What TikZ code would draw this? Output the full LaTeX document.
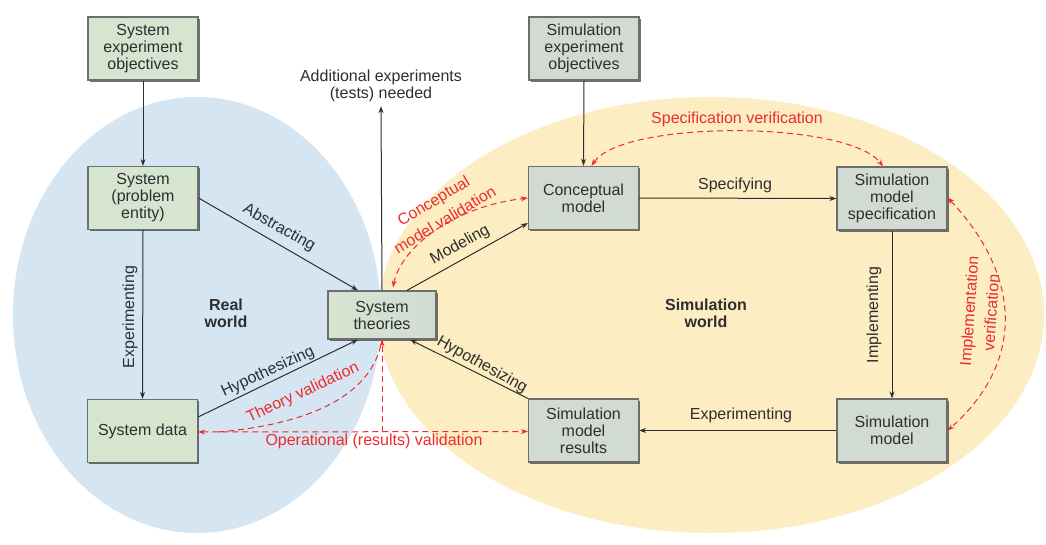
\documentclass[tikz,border=0pt]{standalone}
\usepackage{fontspec}
\setmainfont{Liberation Sans}
\usetikzlibrary{arrows.meta,shadows,calc}
\definecolor{bluebg}{HTML}{D5E5F2}
\definecolor{yellowbg}{HTML}{FCEEC2}
\definecolor{leftbox}{HTML}{D5E5D0}
\definecolor{rightbox}{HTML}{D2DBD3}
\definecolor{boxline}{HTML}{6E6E6E}
\definecolor{ink}{HTML}{2E2E2E}
\definecolor{redline}{HTML}{EE2A2E}
\begin{document}
\begin{tikzpicture}[x=1pt,y=-1pt,
  font=\fontsize{16}{17}\selectfont,
  >={Stealth[length=7pt,width=5pt]},
  box/.style={draw=boxline, line width=1.2pt, text=ink, align=center,
    minimum width=110pt, minimum height=63pt, inner sep=2pt,
    drop shadow={shadow xshift=1.8pt, shadow yshift=-1.8pt, fill=black, opacity=0.55}},
  lbox/.style={box, fill=leftbox},
  rbox/.style={box, fill=rightbox},
  conn/.style={draw=ink, line width=1pt, ->},
  lab/.style={text=ink, inner sep=0pt},
  wlab/.style={text=ink, inner sep=0pt, align=center, font=\fontsize{16}{17}\selectfont\bfseries},
  rlab/.style={text=redline, inner sep=0pt},
  rlab2/.style={rlab, align=center, font=\fontsize{16}{22}\selectfont},
  val/.style={draw=redline, line width=1pt, dash pattern=on 6pt off 4pt}
]
\useasboundingbox[fill=white] (0,0) rectangle (1046,545);
\fill[bluebg] (197,315) ellipse [x radius=184, y radius=218];
\fill[yellowbg] (711,315) ellipse [x radius=333, y radius=218];

% boxes
\node[lbox] (seo) at (143,48.5) {System\\experiment\\objectives};
\node[lbox] (sys) at (143,198) {System\\(problem\\entity)};
\node[lbox] (sdata) at (142.5,431) {System data};
\node[box, minimum width=108pt, minimum height=48pt, left color=leftbox, right color=rightbox] (theo) at (382,315) {System\\theories};
\node[rbox] (simobj) at (584,48.5) {Simulation\\experiment\\objectives};
\node[rbox] (concept) at (583.5,198) {Conceptual\\model};
\node[rbox] (spec) at (892,198.5) {Simulation\\model\\specification};
\node[rbox] (simres) at (583.5,430.5) {Simulation\\model\\results};
\node[rbox] (simmodel) at (892,430.5) {Simulation\\model};

% free labels
\node[lab, align=center] (addl) at (381,86) {Additional experiments\\(tests) needed};
\node[wlab] (real) at (226,313) {Real\\world};
\node[wlab] (simw) at (706,313) {Simulation\\world};

% black connectors
\draw[conn] (seo.south) -- (sys.north);
\draw[conn] (simobj.south) -- (concept.north);
\draw[conn] (sys.south) -- (sdata.north);
\draw[conn] (sys.east) -- ([xshift=-24pt]theo.north);
\draw[conn] ([yshift=14pt]sdata.east) -- ([xshift=-24pt]theo.south);
\draw[conn] ([xshift=25pt]theo.north) -- ([yshift=-25pt]concept.west);
\draw[conn] (concept.east) -- (spec.west);
\draw[conn] (spec.south) -- (simmodel.north);
\draw[conn] (simmodel.west) -- (simres.east);
\draw[conn] (simres.north west) -- ([xshift=28pt]theo.south);
\draw[conn] (theo.north) -- ([yshift=-4pt]addl.south);

% black labels
\node[lab, rotate=90] (lexp) at (130,317) {Experimenting};
\node[lab, rotate=-29.5] (labs) at (279,228) {Abstracting};
\node[lab, rotate=25] (lhyp1) at (268,372) {Hypothesizing};
\node[lab, rotate=29] (lmod) at (460,245) {Modeling};
\node[lab, rotate=-29] (lhyp2) at (482,365) {Hypothesizing};
\node[lab] (lspec) at (735,185) {Specifying};
\node[lab] (lexp2) at (741,415) {Experimenting};
\node[lab, rotate=90] (limp) at (874,315) {Implementing};

% red validation / verification
\draw[val, <->] ([xshift=11pt,yshift=3pt]theo.north) .. controls (400,250) and (450,207) .. (concept.west);
\draw[val, <->] ([xshift=8pt]concept.north) .. controls (622,120) and (848,120) .. ([xshift=-9pt]spec.north);
\draw[val, <->] ([yshift=1pt]spec.east) .. controls (1025,280) and (1022,365) .. (simmodel.east);
\draw[val, <->] ([yshift=-1pt]sdata.east) -- ([yshift=-1pt]simres.west);
\coordinate (opmid) at ($(theo.south |- sdata.east)+(0,1)$);
\draw[val, ->] (opmid) -- (theo.south);
\draw[val] ([xshift=20pt,yshift=-1pt]sdata.east) .. controls (300,425) and (372,400) .. (theo.south);

\node[rlab2, rotate=31] (lcmv) at (439,210) {Conceptual\\model validation};
\node[rlab] (lsv) at (737,119) {Specification verification};
\node[rlab2, rotate=86] (liv) at (980,312) {Implementation\\verification};
\node[rlab, rotate=25] (ltv) at (303,393) {Theory validation};
\node[rlab] (lov) at (374,441) {Operational (results) validation};
\end{tikzpicture}
\end{document}
